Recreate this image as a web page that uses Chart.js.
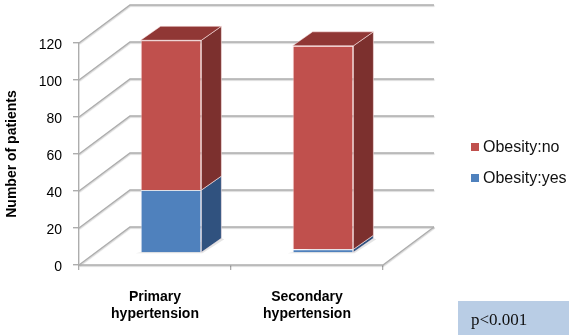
<!DOCTYPE html>
<html>
<head>
<meta charset="utf-8">
<script src="https://cdn.jsdelivr.net/npm/chart.js@4/dist/chart.umd.min.js"></script>
<style>
html,body{margin:0;padding:0;background:#fff;}
#wrap{position:relative;width:569px;height:335px;}
</style>
</head>
<body>
<div id="wrap"><canvas id="c" width="569" height="335"></canvas></div>
<script>
const categories = [['Primary', 'hypertension'], ['Secondary', 'hypertension']];
const seriesNames = ['Obesity:yes', 'Obesity:no'];
const obesityYes = [34, 2];
const obesityNo = [81, 110];
const yTicks = [0, 20, 40, 60, 80, 100, 120];
const yTitle = 'Number of patients';
const pValueText = 'p<0.001';

const FONT = 'Arial, "Liberation Sans", sans-serif';
const frontColors = ['#4F81BD', '#C0504D'];
const sideColors = ['#30527F', '#7C302E'];
const topColors = ['#3A6398', '#903735'];

// depth of the whole plot box and of the bars
const WALL_DX = 51, WALL_DY = 38;
const BAR_SHIFT_X = 16, BAR_SHIFT_Y = -12;
const BAR_DX = 20, BAR_DY = 14;

const threeD = {
  id: 'threeD',
  beforeDatasetsDraw(chart) {
    const ctx = chart.ctx;
    const a = chart.chartArea;
    const ys = chart.scales.y;
    ctx.save();
    ctx.strokeStyle = '#adadad';
    ctx.lineWidth = 1.4;
    ctx.shadowColor = 'rgba(0,0,0,0.18)';
    ctx.shadowOffsetX = 0.5;
    ctx.shadowOffsetY = 1;
    ctx.shadowBlur = 1;
    ys.ticks.forEach(t => {
      const yv = ys.getPixelForValue(t.value);
      ctx.beginPath();
      ctx.moveTo(a.left, yv);
      ctx.lineTo(a.left + WALL_DX, yv - WALL_DY);
      ctx.lineTo(a.right + WALL_DX, yv - WALL_DY);
      ctx.stroke();
    });
    // floor
    ctx.beginPath();
    ctx.moveTo(a.left, a.bottom);
    ctx.lineTo(a.right, a.bottom);
    ctx.lineTo(a.right + WALL_DX, a.bottom - WALL_DY);
    ctx.stroke();
    ctx.restore();

    // bar shadows on the floor
    ctx.save();
    ctx.translate(BAR_SHIFT_X, BAR_SHIFT_Y);
    const m0 = chart.getDatasetMeta(0);
    m0.data.forEach(el => {
      const l = el.x - el.width / 2, r = el.x + el.width / 2, b = el.base;
      ctx.fillStyle = 'rgba(0,0,0,0.10)';
      ctx.beginPath();
      ctx.moveTo(l - 5, b + 1);
      ctx.lineTo(r + 1, b + 1);
      ctx.lineTo(r + BAR_DX + 3, b - BAR_DY + 1);
      ctx.lineTo(r + BAR_DX, b - BAR_DY);
      ctx.lineTo(l, b);
      ctx.closePath();
      ctx.fill();
    });
    ctx.restore();

    ctx.save();
    ctx.translate(BAR_SHIFT_X, BAR_SHIFT_Y);
  },
  afterDatasetsDraw(chart) {
    const ctx = chart.ctx;
    const n = chart.data.datasets.length;
    const nCat = chart.data.labels.length;
    for (let i = 0; i < nCat; i++) {
      let topEl = null, topIdx = -1;
      for (let d = 0; d < n; d++) {
        const el = chart.getDatasetMeta(d).data[i];
        const r = el.x + el.width / 2;
        const top = Math.min(el.y, el.base), bot = Math.max(el.y, el.base);
        ctx.fillStyle = sideColors[d];
        ctx.strokeStyle = 'rgba(255,235,235,0.55)';
        ctx.lineWidth = 1;
        ctx.beginPath();
        ctx.moveTo(r, top);
        ctx.lineTo(r + BAR_DX, top - BAR_DY);
        ctx.lineTo(r + BAR_DX, bot - BAR_DY);
        ctx.lineTo(r, bot);
        ctx.closePath();
        ctx.fill();
        ctx.stroke();
        if (chart.data.datasets[d].data[i] > 0) { topEl = el; topIdx = d; }
      }
      if (topEl) {
        const l = topEl.x - topEl.width / 2, r = topEl.x + topEl.width / 2;
        const top = Math.min(topEl.y, topEl.base);
        ctx.fillStyle = topColors[topIdx];
        ctx.strokeStyle = 'rgba(255,235,235,0.55)';
        ctx.beginPath();
        ctx.moveTo(l, top);
        ctx.lineTo(l + BAR_DX, top - BAR_DY);
        ctx.lineTo(r + BAR_DX, top - BAR_DY);
        ctx.lineTo(r, top);
        ctx.closePath();
        ctx.fill();
        ctx.stroke();
      }
    }
    ctx.restore();
  },
  afterDraw(chart) {
    const ctx = chart.ctx;
    ctx.save();
    // legend (top series first)
    const ds = chart.data.datasets;
    let k = 0;
    for (let d = ds.length - 1; d >= 0; d--) {
      const cy = 147 + k * 31;
      ctx.fillStyle = ds[d].backgroundColor;
      ctx.fillRect(471, cy - 4, 8, 8);
      ctx.fillStyle = '#111';
      ctx.font = '16px ' + FONT;
      ctx.textBaseline = 'middle';
      ctx.textAlign = 'left';
      ctx.fillText(ds[d].label, 483, cy + 1);
      k++;
    }
    // p-value box
    ctx.fillStyle = '#B9CDE5';
    ctx.fillRect(458, 301, 111, 34);
    ctx.fillStyle = '#111';
    ctx.font = '17px "Times New Roman", "Liberation Serif", serif';
    ctx.textBaseline = 'alphabetic';
    ctx.fillText(pValueText, 471, 325);
    ctx.restore();
  }
};

new Chart(document.getElementById('c'), {
  type: 'bar',
  data: {
    labels: categories,
    datasets: [
      { label: seriesNames[0], data: obesityYes, backgroundColor: frontColors[0], borderColor: 'rgba(235,240,250,0.7)', borderWidth: 1, clip: false },
      { label: seriesNames[1], data: obesityNo, backgroundColor: frontColors[1], borderColor: 'rgba(255,225,225,0.7)', borderWidth: 1, clip: false }
    ]
  },
  options: {
    responsive: false,
    animation: false,
    devicePixelRatio: 1,
    layout: { padding: { top: 43, right: 186, bottom: 0, left: 0 } },
    barPercentage: 0.4,
    categoryPercentage: 1,
    plugins: { legend: { display: false }, tooltip: { enabled: false } },
    scales: {
      x: {
        stacked: true,
        offset: true,
        grid: { display: true, drawOnChartArea: false, tickLength: 5, color: '#adadad', lineWidth: 1.3, offset: true },
        border: { display: false },
        ticks: { color: '#000', font: { family: FONT, size: 14, weight: 'bold', lineHeight: 1.25 }, padding: 18, maxRotation: 0 },
        afterFit: s => { s.height = 70; }
      },
      y: {
        stacked: true,
        min: 0,
        max: 120,
        afterBuildTicks: s => { s.ticks = yTicks.map(v => ({ value: v })); },
        grid: { display: true, drawOnChartArea: false, tickLength: 6, color: '#adadad', lineWidth: 1.4 },
        border: { display: true, color: '#adadad', width: 1.4 },
        ticks: { color: '#000', font: { family: FONT, size: 14 }, padding: 11, labelOffset: 2 },
        title: { display: true, text: yTitle, color: '#000', font: { family: FONT, size: 14, weight: 'bold' }, padding: { top: 4, bottom: 0 } },
        afterFit: s => { s.width = 79; }
      }
    }
  },
  plugins: [threeD]
});
</script>
</body>
</html>
